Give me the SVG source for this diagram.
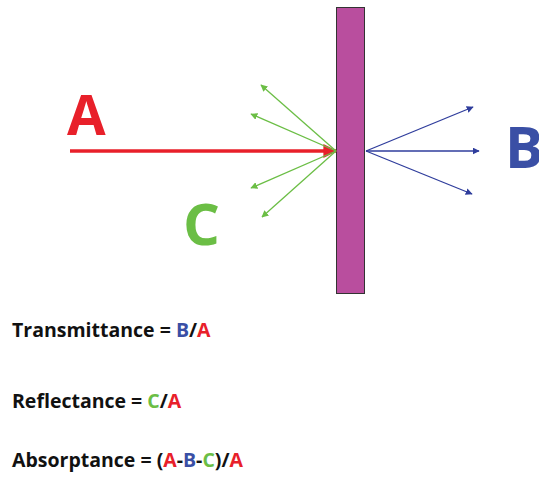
<svg xmlns="http://www.w3.org/2000/svg" width="539" height="478" viewBox="0 0 539 478">
<style>
.lbl{font-family:"Open Sans","Liberation Sans",sans-serif;font-weight:bold}
.eq{font-family:"Open Sans","Liberation Sans",sans-serif;font-weight:bold;font-size:19.5px;fill:#111}
.r{fill:#E8202A}.g{fill:#6BBE45}.b{fill:#3A4FA5}
.ga{stroke:#6BBE45;stroke-width:1.3;fill:none;marker-end:url(#mg)}
.ba{stroke:#2F3D9C;stroke-width:1.3;fill:none;marker-end:url(#mb)}
</style>
<defs>
<marker id="mg" viewBox="0 0 10 10" refX="9" refY="5" markerWidth="7" markerHeight="7" markerUnits="userSpaceOnUse" orient="auto"><path d="M0,0L10,5L0,10z" fill="#6BBE45"/></marker>
<marker id="mb" viewBox="0 0 10 10" refX="9" refY="5" markerWidth="7" markerHeight="7" markerUnits="userSpaceOnUse" orient="auto"><path d="M0,0L10,5L0,10z" fill="#2F3D9C"/></marker>
<marker id="mr" viewBox="0 0 10 10" refX="9" refY="5" markerWidth="4" markerHeight="4" orient="auto"><path d="M0,0L10,5L0,10z" fill="#E8202A"/></marker>
</defs>
<g id="slab"><rect x="336.5" y="7.5" width="28" height="286" fill="#B94E9E" stroke="#333" stroke-width="1"/></g>
<g id="connectors">
<line x1="70" y1="151" x2="336" y2="151" stroke="#E8202A" stroke-width="3.5" marker-end="url(#mr)"/>
<line class="ga" x1="336" y1="151" x2="261" y2="85"/>
<line class="ga" x1="336" y1="151" x2="251" y2="114"/>
<line class="ga" x1="336" y1="151" x2="251" y2="188"/>
<line class="ga" x1="336" y1="151" x2="262" y2="217"/>
<line class="ba" x1="366" y1="151" x2="473" y2="107"/>
<line class="ba" x1="366" y1="151" x2="479" y2="151"/>
<line class="ba" x1="366" y1="151" x2="472" y2="194"/>
</g>
<g id="label-A"><text class="lbl r" x="67" y="135" font-size="56">A</text></g>
<g id="label-C"><text class="lbl g" x="183" y="245" font-size="58">C</text></g>
<g id="label-B"><text class="lbl b" x="505" y="168" font-size="57">B</text></g>
<g id="eq-transmittance"><text class="eq" x="12" y="337">Transmittance = <tspan class="b">B</tspan>/<tspan class="r">A</tspan></text></g>
<g id="eq-reflectance"><text class="eq" x="12" y="408">Reflectance = <tspan class="g">C</tspan>/<tspan class="r">A</tspan></text></g>
<g id="eq-absorptance"><text class="eq" x="12" y="467">Absorptance = (<tspan class="r">A</tspan>-<tspan class="b">B</tspan>-<tspan class="g">C</tspan>)/<tspan class="r">A</tspan></text></g>
</svg>
